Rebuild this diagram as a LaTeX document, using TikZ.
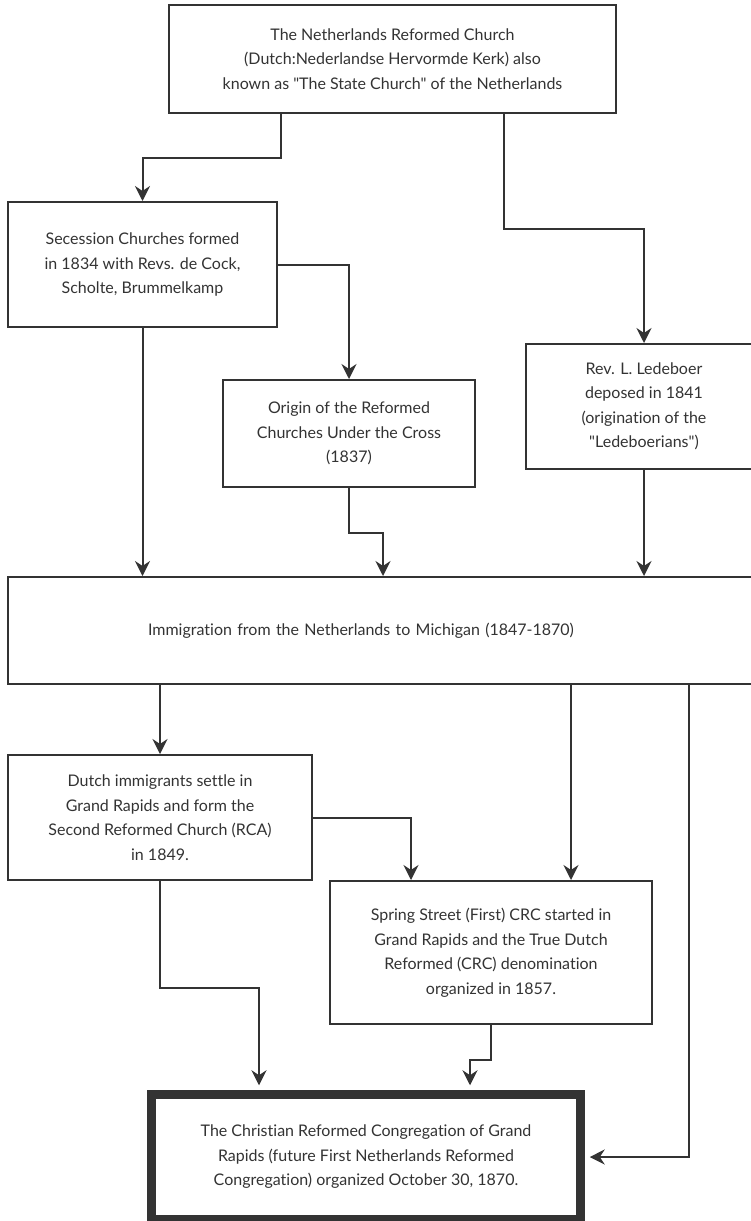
\documentclass[tikz,border=0pt]{standalone}
\usepackage{fontspec}
\setmainfont{Lato}[Ligatures={TeXOff,NoCommon}]
\usetikzlibrary{arrows.meta,positioning,calc}
\definecolor{ink}{HTML}{333333}
\tikzset{
  font=\fontsize{16}{24.5}\selectfont,
  box/.style={
    draw=ink,
    line width=2pt,
    align=center,
    inner sep=0pt,
    text=ink
  },
  finalbox/.style={
    box,
    line width=9.3pt
  },
  arrow/.style={-{Stealth[length=15pt,width=15pt,inset=5pt]}, draw=ink, line width=2pt},
  tofinal/.style={arrow, shorten >=4.6pt}
}

\begin{document}
\begin{tikzpicture}[x=1pt,y=-1pt]

\useasboundingbox (0,0) rectangle (750,1221);

% Netherlands
\node[box, minimum width=447pt, minimum height=108pt] (state) at (392.5,59) {The Netherlands Reformed Church\\(Dutch:Nederlandse Hervormde Kerk) also\\known as "The State Church" of the Netherlands};
\node[box, minimum width=269pt, minimum height=125pt] (secession) at (142.5,264.5) {Secession Churches formed\\in 1834 with Revs. de Cock,\\Scholte, Brummelkamp};
\node[box, minimum width=252pt, minimum height=107pt] (origin) at (349,433.5) {Origin of the Reformed\\Churches Under the Cross\\(1837)};
\node[box, minimum width=236pt, minimum height=125pt] (ledeboer) at (644,406.5) {Rev. L. Ledeboer\\deposed in 1841\\(origination of the\\"Ledeboerians")};

% Immigration
\node[box, align=left, text width=472pt, inner xsep=140pt, minimum height=107pt] (immig) at (384,630.5) {Immigration from the Netherlands to Michigan (1847-1870)};

% Grand Rapids
\node[box, minimum width=304pt, minimum height=125pt] (dutch) at (160,817.5) {Dutch immigrants settle in\\Grand Rapids and form the\\Second Reformed Church (RCA)\\in 1849.};
\node[box, minimum width=322pt, minimum height=143pt] (spring) at (491,952.5) {Spring Street (First) CRC started in\\Grand Rapids and the True Dutch\\Reformed (CRC) denomination\\organized in 1857.};
\node[finalbox, minimum width=429pt, minimum height=125pt] (final) at (366,1157) {The Christian Reformed Congregation of Grand\\Rapids (future First Netherlands Reformed\\Congregation) organized October 30, 1870.};

% Connections
\draw[arrow] ([xshift=-111.5pt]state.south) -- ++(0,44) -| (secession.north);
\draw[arrow] ([xshift=111.5pt]state.south) -- ++(0,115) -| (ledeboer.north);
\draw[arrow] (secession.east) -| (origin.north);
\draw[arrow] (secession.south) -- (secession.south |- immig.north);
\draw[arrow] (origin.south) -- ++(0,45) -| ($(origin.south |- immig.north)+(34,0)$);
\draw[arrow] (ledeboer.south) -- (ledeboer.south |- immig.north);

\draw[arrow] (dutch.north |- immig.south) -- (dutch.north);
\draw[arrow] ($(spring.north |- immig.south)+(80,0)$) -- ($(spring.north)+(80,0)$);
\draw[tofinal] ($(immig.south)+(305,0)$) |- (final.east);
\draw[arrow] (dutch.east) -| ($(spring.north)+(-80,0)$);
\draw[tofinal] (dutch.south) -- ++(0,107) -| ($(final.north)+(-107,0)$);
\draw[tofinal] (spring.south) -- ++(0,35) -| ($(final.north)+(104,0)$);

\end{tikzpicture}
\end{document}
